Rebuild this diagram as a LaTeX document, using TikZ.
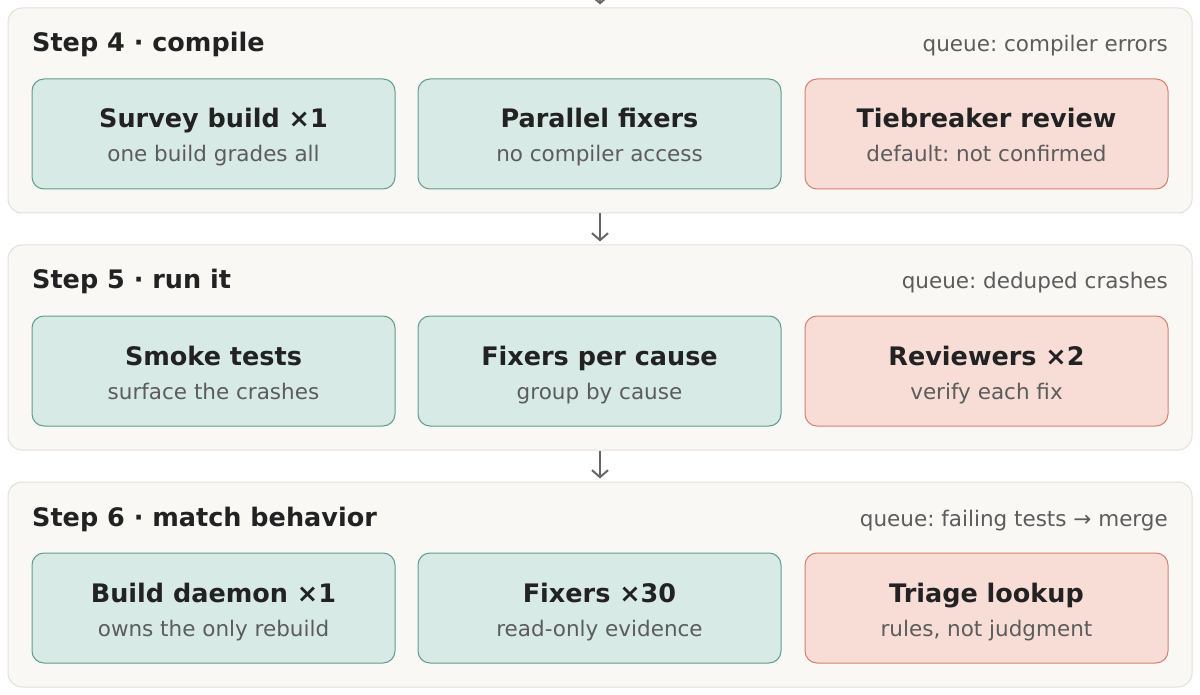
\documentclass[tikz,border=0pt]{standalone}
\usepackage{fontspec}
\setmainfont{DejaVu Sans}
\usetikzlibrary{arrows.meta}
\frenchspacing

\definecolor{panelfill}{HTML}{F9F8F5}
\definecolor{panelline}{HTML}{E3E0D6}
\definecolor{calmfill}{HTML}{D7EAE5}
\definecolor{calmline}{HTML}{5E9E8F}
\definecolor{alarmfill}{HTML}{F8DDD7}
\definecolor{alarmline}{HTML}{D6806D}
\definecolor{maintext}{HTML}{222222}
\definecolor{subtext}{HTML}{5C5C5C}
\definecolor{arrowgray}{HTML}{666666}

\newcommand{\boxhead}[1]{{\color{maintext}\fontsize{25.5}{34}\selectfont\bfseries #1}}

\begin{document}
\begin{tikzpicture}[
        x=1pt, y=-1pt,
        panel/.style={draw=panelline, fill=panelfill, line width=1pt, rounded corners=14pt,
            minimum width=1184pt, minimum height=205pt, inner sep=0pt},
        calm/.style={draw=calmline, fill=calmfill, line width=1pt, rounded corners=12pt,
            minimum width=363pt, minimum height=110pt, inner sep=0pt, align=center,
            text height=58pt, text depth=2pt, text=subtext, font=\fontsize{21.5}{34}\selectfont},
        alarm/.style={calm, draw=alarmline, fill=alarmfill},
        steptitle/.style={anchor=base west, inner sep=0pt, text=maintext,
            font=\fontsize{25.5}{30}\selectfont\bfseries},
        queue/.style={anchor=base east, inner sep=0pt, text=subtext,
            font=\fontsize{21.5}{26}\selectfont},
        flow/.style={draw=arrowgray, line width=2pt, shorten >=3pt,
            -{Straight Barb[length=7pt,width=16pt]}}
    ]
        \useasboundingbox (0,0) rectangle (1200,695);

        % Step 4
        \node [panel] (s4) at (600,110.5) {};
        \node [steptitle] (s4title) at (32,52) {Step 4 · compile};
        \node [queue] (s4queue) at (1168,52) {queue: compiler errors};
        \node [calm] (survey) at (213.5,134) {\boxhead{Survey build ×1}\\one build grades all};
        \node [calm] (parallel) at (599.5,134) {\boxhead{Parallel fixers}\\no compiler access};
        \node [alarm] (tiebreak) at (986.5,134) {\boxhead{Tiebreaker review}\\default: not confirmed};

        % Step 5
        \node [panel] (s5) at (600,347.5) {};
        \node [steptitle] (s5title) at (32,289) {Step 5 · run it};
        \node [queue] (s5queue) at (1168,289) {queue: deduped crashes};
        \node [calm] (smoke) at (213.5,371) {\boxhead{Smoke tests}\\surface the crashes};
        \node [calm] (percause) at (599.5,371) {\boxhead{Fixers per cause}\\group by cause};
        \node [alarm] (reviewers) at (986.5,371) {\boxhead{Reviewers ×2}\\verify each fix};

        % Step 6
        \node [panel] (s6) at (600,584.5) {};
        \node [steptitle] (s6title) at (32,526) {Step 6 · match behavior};
        \node [queue] (s6queue) at (1168,526) {queue: failing tests → merge};
        \node [calm] (daemon) at (213.5,608) {\boxhead{Build daemon ×1}\\owns the only rebuild};
        \node [calm] (fixers) at (599.5,608) {\boxhead{Fixers ×30}\\read-only evidence};
        \node [alarm] (triage) at (986.5,608) {\boxhead{Triage lookup}\\rules, not judgment};

        % Hand-offs between steps
        \coordinate (prev) at (600,-30);
        \draw [flow] (prev) -- (s4.north);
        \draw [flow] (s4.south) -- (s5.north);
        \draw [flow] (s5.south) -- (s6.north);
    \end{tikzpicture}
\end{document}
